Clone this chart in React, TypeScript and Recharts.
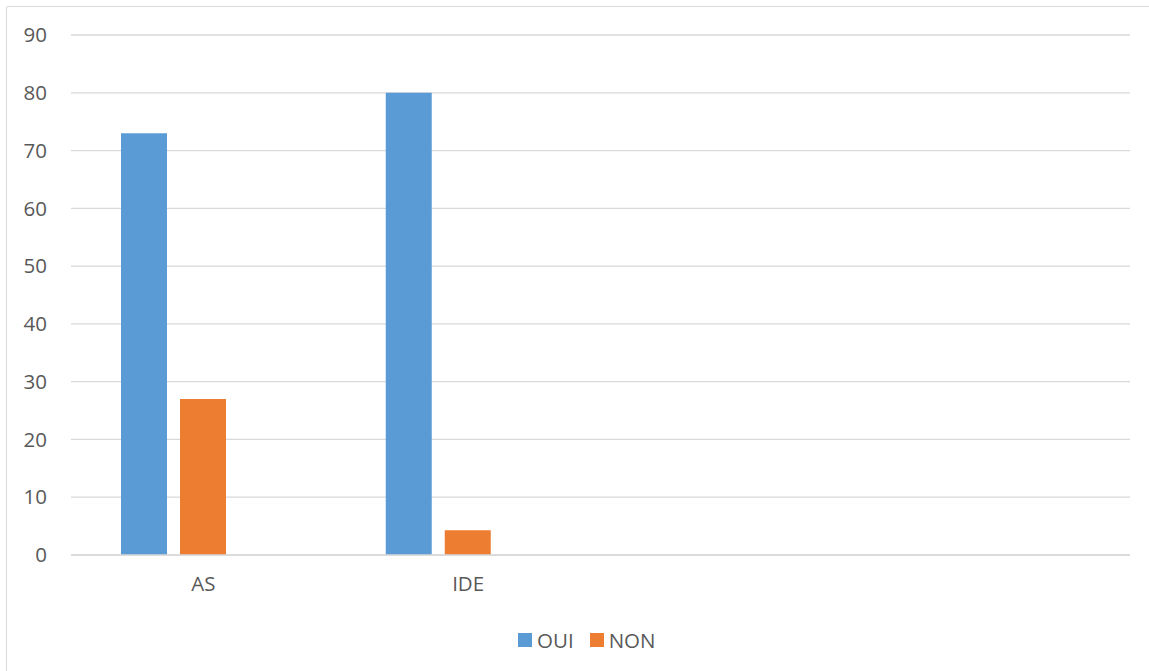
import React from 'react';
import { BarChart, Bar, XAxis, YAxis, CartesianGrid, Legend } from 'recharts';

// Category labels (two unnamed slots follow the named ones)
const categories: string[] = ['AS', 'IDE', '', ''];
// Series names, in legend order
const seriesNames: string[] = ['OUI', 'NON'];
// Series values
const ouiValues: (number | null)[] = [73, 80, null, null];
const nonValues: (number | null)[] = [27, 4.3, null, null];
const extraValues: (number | null)[] = [null, null, null, null];
// Y axis ticks
const yTicks: number[] = [0, 10, 20, 30, 40, 50, 60, 70, 80, 90];

const data = categories.map((name, i) => ({
  name,
  OUI: ouiValues[i],
  NON: nonValues[i],
  extra: extraValues[i],
}));

const FONT = '"Open Sans", "Noto Sans", sans-serif';
const TEXT = '#595959';
const GRID = '#d9d9d9';

const LegendContent = (props: any) => {
  const items = (props.payload || [])
    .filter((p: any) => p.type !== 'none')
    .sort((a: any, b: any) => seriesNames.indexOf(a.value) - seriesNames.indexOf(b.value));
  return (
    <div style={{ display: 'flex', alignItems: 'center', height: 16, fontFamily: FONT, fontSize: 20.5, color: TEXT }}>
      {items.map((p: any, i: number) => (
        <div key={i} style={{ display: 'flex', alignItems: 'center', marginRight: 16 }}>
          <span style={{ display: 'inline-block', width: 14, height: 14, background: p.color, marginRight: 5 }} />
          <span style={{ lineHeight: '16px' }}>{p.value}</span>
        </div>
      ))}
    </div>
  );
};

export default function App() {
  return (
    <div style={{ position: 'absolute', left: 0, top: 0, width: 1149, height: 671, overflow: 'hidden', background: '#fff' }}>
      <div style={{ position: 'absolute', left: 6, top: 6, width: 1200, height: 800, border: `1px solid ${GRID}`, borderRadius: 2 }} />
      <div style={{ position: 'absolute', left: 0, top: 0 }}>
        <BarChart
          width={1149}
          height={671}
          data={data}
          margin={{ top: 35, right: 19, left: 0, bottom: 40 }}
          barSize={46}
          barGap={13}
        >
          <CartesianGrid vertical={false} stroke={GRID} strokeWidth={1.3} />
          <XAxis
            dataKey="name"
            axisLine={{ stroke: GRID, strokeWidth: 1.3 }}
            tickLine={false}
            tickSize={0}
            tickMargin={21}
            height={60}
            tick={{ fill: TEXT, fontSize: 20.5, fontFamily: FONT }}
          />
          <YAxis
            domain={[0, 90]}
            ticks={yTicks}
            axisLine={false}
            tickLine={false}
            tickSize={0}
            tickMargin={24}
            width={71}
            tick={{ fill: TEXT, fontSize: 20.5, fontFamily: FONT }}
          />
          <Legend
            verticalAlign="bottom"
            content={<LegendContent />}
            wrapperStyle={{ position: 'absolute', left: 518, top: 632, width: 'auto', height: 16 }}
          />
          <Bar dataKey="OUI" name="OUI" fill="#5B9BD5" isAnimationActive={false} />
          <Bar dataKey="NON" name="NON" fill="#ED7D31" isAnimationActive={false} />
          <Bar dataKey="extra" name="extra" fill="#A5A5A5" legendType="none" isAnimationActive={false} />
        </BarChart>
      </div>
    </div>
  );
}
